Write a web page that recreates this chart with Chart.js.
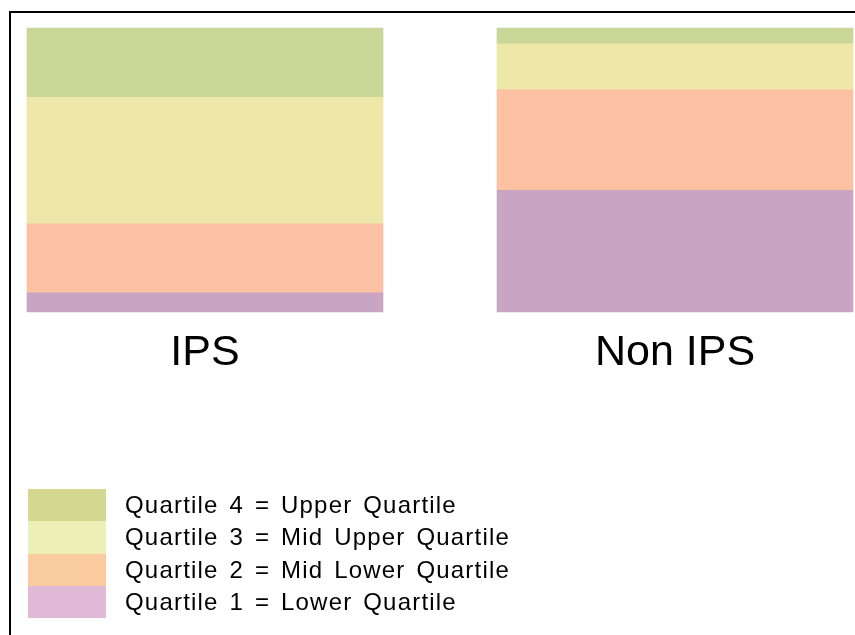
<!DOCTYPE html>
<html>
<head>
<meta charset="utf-8">
<script src="https://cdn.jsdelivr.net/npm/chart.js@4/dist/chart.umd.min.js"></script>
<style>
  html, body { margin: 0; padding: 0; background: #fff; }
  body { width: 855px; height: 635px; position: relative; overflow: hidden; font-family: "Liberation Sans", Arial, sans-serif; }
  #frame { position: absolute; left: 9px; top: 11px; width: 900px; height: 700px; border-top: 2px solid #000; border-left: 2px solid #000; }
  #chart { position: absolute; left: 0; top: 0; }
  #legend { position: absolute; left: 28px; top: 489px; }
  .row { display: flex; align-items: center; height: 32.25px; }
  .box { width: 78px; height: 100%; }
  .txt { margin-left: 19px; font-size: 24px; letter-spacing: 1.2px; word-spacing: 3px; color: #000; white-space: pre; line-height: 1; }
</style>
</head>
<body>
<div id="frame"></div>
<canvas id="chart" width="855" height="635"></canvas>
<div id="legend"></div>
<script>
// ---- data ----
const categories = ["IPS", "Non IPS"];
const seriesNames = ["Quartile 1", "Quartile 2", "Quartile 3", "Quartile 4"];
const q1Values = [6.7, 42.8];
const q2Values = [24.3, 35.4];
const q3Values = [44.6, 16.2];
const q4Values = [24.4, 5.6];
const legendLabels = [
  "Quartile 4 = Upper Quartile",
  "Quartile 3 = Mid Upper Quartile",
  "Quartile 2 = Mid Lower Quartile",
  "Quartile 1 = Lower Quartile"
];
// ---- styles ----
const barColors = ["#c8a5c2", "#fcc0a3", "#ede7a8", "#cbd699"];
const legendColors = ["#d3d78f", "#ecf0b6", "#fbcba0", "#e0b9d7"];

const seriesValues = [q1Values, q2Values, q3Values, q4Values];
const datasets = seriesNames.map((name, i) => ({
  label: name,
  data: seriesValues[i],
  backgroundColor: barColors[i],
  borderWidth: 0,
  barThickness: 356,
  clip: false
}));

new Chart(document.getElementById("chart"), {
  type: "bar",
  data: { labels: categories, datasets },
  options: {
    responsive: false,
    animation: false,
    layout: { padding: { left: 205, right: 180, top: 28, bottom: 239.6 } },
    plugins: { legend: { display: false }, tooltip: { enabled: false } },
    scales: {
      x: {
        stacked: true,
        offset: false,
        grid: { display: false, drawTicks: false },
        border: { display: false },
        ticks: {
          color: "#000",
          padding: 16,
          maxRotation: 0,
          autoSkip: false,
          font: { family: "'Liberation Sans', Arial, sans-serif", size: 43 }
        }
      },
      y: {
        stacked: true,
        display: false,
        min: 0,
        max: 100
      }
    }
  }
});

const legend = document.getElementById("legend");
legendLabels.forEach((t, i) => {
  const row = document.createElement("div");
  row.className = "row";
  const box = document.createElement("div");
  box.className = "box";
  box.style.background = legendColors[i];
  const txt = document.createElement("div");
  txt.className = "txt";
  txt.textContent = t;
  row.appendChild(box);
  row.appendChild(txt);
  legend.appendChild(row);
});
</script>
</body>
</html>
